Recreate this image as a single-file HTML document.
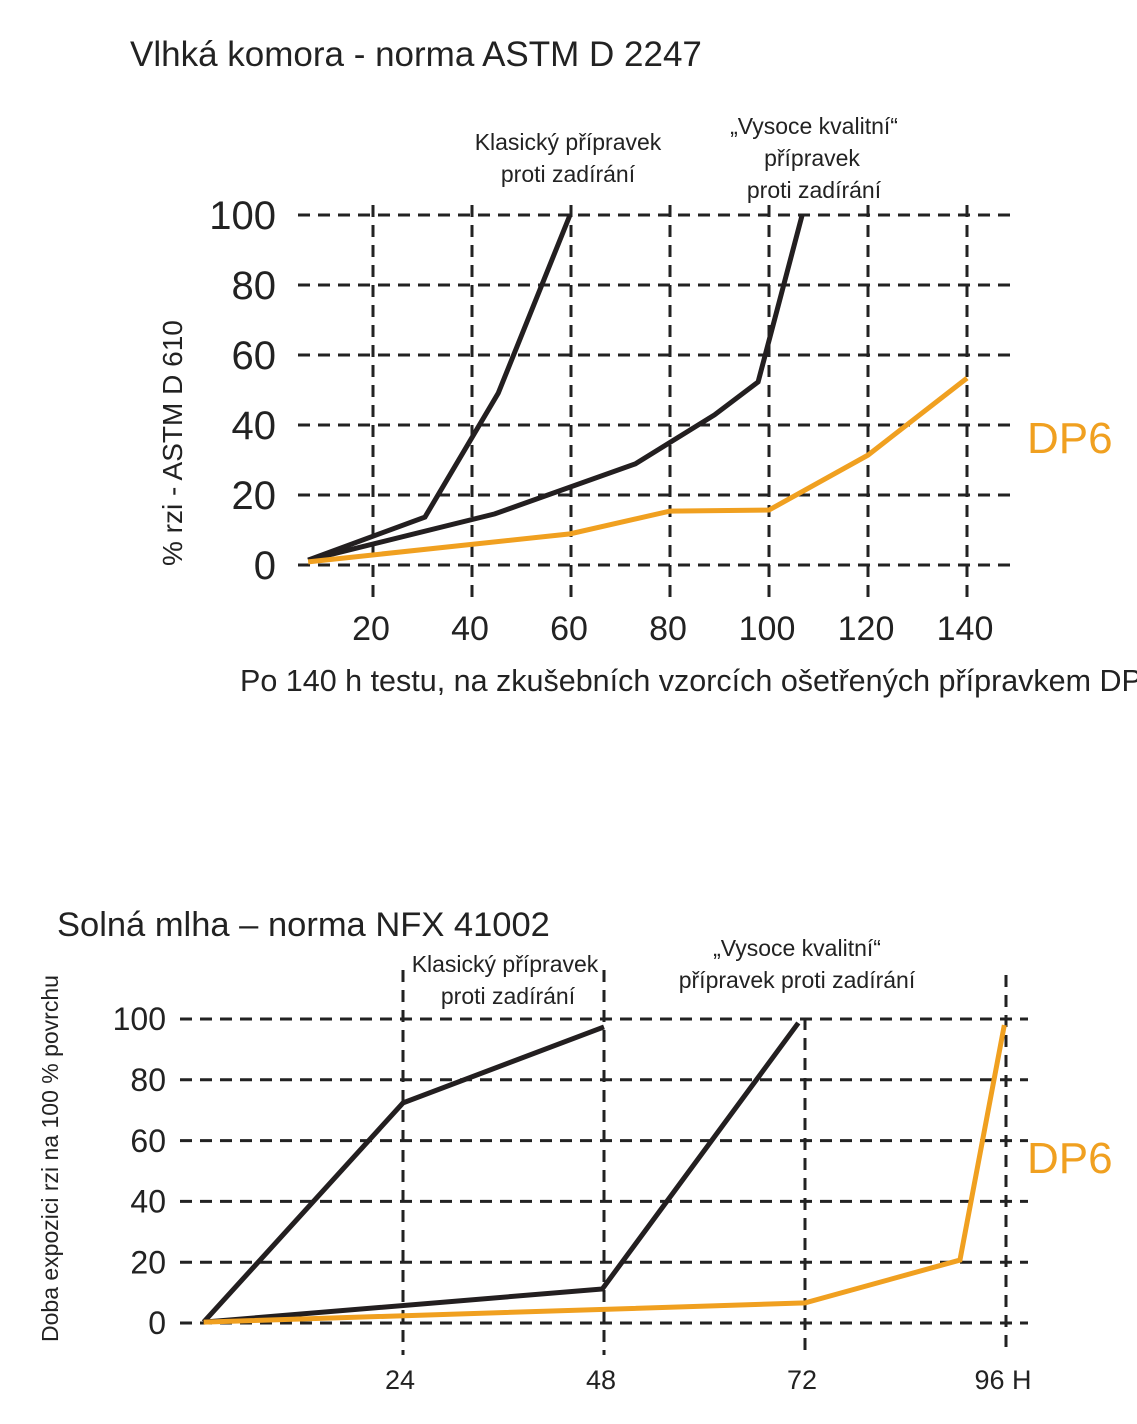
<!DOCTYPE html>
<html><head><meta charset="utf-8"><style>
body{margin:0;background:#fff;overflow:hidden}
svg{display:block;font-family:"Liberation Sans",sans-serif}
</style></head><body>
<svg width="1137" height="1424" viewBox="0 0 1137 1424">
<g id="top">
<text x="130" y="66" font-size="35" fill="#222">Vlhká komora  - norma ASTM D 2247</text>
<text x="568" y="150" font-size="23" text-anchor="middle" fill="#222">Klasický přípravek</text>
<text x="568" y="182" font-size="23" text-anchor="middle" fill="#222">proti zadírání</text>
<text x="814" y="134" font-size="23" text-anchor="middle" fill="#222">„Vysoce kvalitní“</text>
<text x="812" y="166" font-size="23" text-anchor="middle" fill="#222">přípravek</text>
<text x="814" y="198" font-size="23" text-anchor="middle" fill="#222">proti zadírání</text>
<text transform="translate(182,566) rotate(-90)" font-size="28" fill="#222">% rzi  - ASTM D 610</text>
<text x="240" y="691" font-size="30.5" fill="#222">Po 140 h testu, na zkušebních vzorcích ošetřených přípravkem DP6</text>
<text x="1027" y="453" font-size="44" fill="#f0a020">DP6</text>
</g>
<g id="bot">
<text x="57" y="936" font-size="34.5" fill="#222">Solná mlha – norma  NFX 41002</text>
<text x="505" y="972" font-size="23" text-anchor="middle" fill="#222">Klasický přípravek</text>
<text x="508" y="1004" font-size="23" text-anchor="middle" fill="#222">proti zadírání</text>
<text x="797" y="956" font-size="23" text-anchor="middle" fill="#222">„Vysoce kvalitní“</text>
<text x="797" y="988" font-size="23" text-anchor="middle" fill="#222">přípravek proti zadírání</text>
<text transform="translate(58,1342) rotate(-90)" font-size="23" fill="#222">Doba expozici rzi na 100 % povrchu</text>
<text x="1027" y="1173" font-size="44" fill="#f0a020">DP6</text>
</g>
</svg>
<script>
// Top chart data
const topYTicks=[0,20,40,60,80,100];
const topXTicks=[20,40,60,80,100,120,140];
const topClassicX=[6.9,30.5,45.3,59.8];
const topClassicY=[1.4,13.7,49.1,100];
const topHqX=[6.9,44.6,73,89,97.8,106.7];
const topHqY=[1.4,14.6,28.9,42.9,52.3,100];
const topDp6X=[6.9,59.8,80,100,120,140];
const topDp6Y=[0.9,8.9,15.4,15.7,31.4,53.4];
// Bottom chart data
const botYTicks=[0,20,40,60,80,100];
const botXTicks=[24,48,72,96];
const botXLabels=["24","48","72","96 H"];
const botClassicX=[0.2,24,48];
const botClassicY=[0.3,72.4,97.4];
const botHqX=[0.2,47.8,71.2];
const botHqY=[0.3,11.2,98.7];
const botDp6X=[0.2,72,90.5,95.8];
const botDp6Y=[0.3,6.6,20.7,98];

const NS="http://www.w3.org/2000/svg";
function mk(parent,tag,attrs){const e=document.createElementNS(NS,tag);for(const k in attrs)e.setAttribute(k,attrs[k]);parent.appendChild(e);return e;}
function draw(g,o){
  const sx=v=>o.x0+v*o.kx, sy=v=>o.y0-v*o.ky;
  o.yTicks.forEach(t=>{
    const l=mk(g,"line",{x1:o.gx1,x2:o.gx2,y1:sy(t),y2:sy(t),stroke:"#222","stroke-width":3,"stroke-dasharray":"12 8"});
    
    
    const tx=mk(g,"text",{x:o.ylx,y:sy(t)+o.yfs*0.35,"font-size":o.yfs,"text-anchor":"end",fill:"#222"});
    tx.textContent=t;
    
    
  });
  o.xTicks.forEach((t,i)=>{
    const top=(o.vyTop&&o.vyTop[i])||o.vy1;
    const l=mk(g,"line",{x1:sx(t),x2:sx(t),y1:top,y2:o.vy2,stroke:"#222","stroke-width":3,"stroke-dasharray":"12 8"});
    
    
    const tx=mk(g,"text",{x:sx(t)+o.xlo,y:o.xly,"font-size":o.xfs,"text-anchor":"middle",fill:"#222"});
    tx.textContent=o.xLabels?o.xLabels[i]:t;
    
    
  });
  o.series.forEach(s=>{
    const p=mk(g,"polyline",{points:s.x.map((v,i)=>sx(v)+","+sy(s.y[i])).join(" "),fill:"none",stroke:s.c,"stroke-width":5,"stroke-linejoin":"miter"});
    
    
  });
}
draw(document.getElementById("top"),{x0:274,kx:4.95,y0:565,ky:3.5,gx1:298,gx2:1018,vy1:205,vy2:600,ylx:276,yfs:40,xlo:-2,xly:640,xfs:34,
  yTicks:topYTicks,xTicks:topXTicks,
  series:[{x:topClassicX,y:topClassicY,c:"#231f20",n:"classic-line"},{x:topHqX,y:topHqY,c:"#231f20",n:"high-quality-line"},{x:topDp6X,y:topDp6Y,c:"#f0a020",n:"dp6-line"}]});
draw(document.getElementById("bot"),{x0:202,kx:8.375,y0:1323,ky:3.04,gx1:180,gx2:1028,vy1:970,vyTop:[970,970,1018,975],vy2:1355,ylx:166,yfs:32,xlo:-3,xly:1389,xfs:27,
  yTicks:botYTicks,xTicks:botXTicks,xLabels:botXLabels,
  series:[{x:botClassicX,y:botClassicY,c:"#231f20",n:"b-classic-line"},{x:botHqX,y:botHqY,c:"#231f20",n:"b-high-quality-line"},{x:botDp6X,y:botDp6Y,c:"#f0a020",n:"b-dp6-line"}]});
</script>
</body></html>
